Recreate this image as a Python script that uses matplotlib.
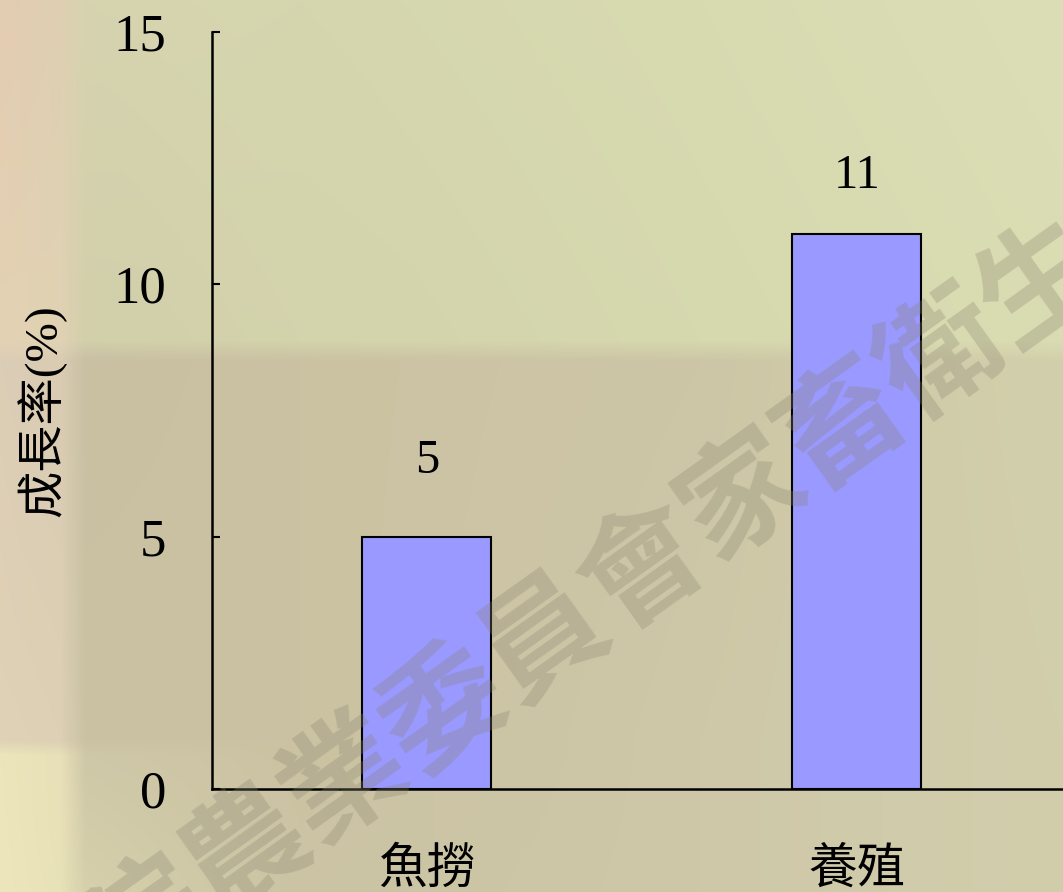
import numpy as np
import matplotlib
matplotlib.use("Agg")
import matplotlib.pyplot as plt
from matplotlib.colors import to_rgb

# ==================== DATA ====================
categories = ["魚撈", "養殖"]
growth_rate = [5, 11]
value_labels = ["5", "11"]
y_ticks = [0, 5, 10, 15]
y_label = "成長率(%)"
watermark = "行政院農業委員會家畜衛生試驗所"

FONT = ["Liberation Serif", "Noto Sans CJK TC", "DejaVu Sans"]
plt.rcParams["font.family"] = FONT

W, H, DPI = 1063, 892, 100
fig = plt.figure(figsize=(W / DPI, H / DPI), dpi=DPI)

# ==================== BACKGROUND (soft textured slide) ====================
bx = [0, 60, 85, 300, 700, 1063]
by = [0, 340, 360, 740, 755, 892]
bg_rows = [
    ["#e3ccb2", "#dfcfb2", "#d6d4b0", "#d5d6ae", "#d8dab0", "#dcdeb6"],
    ["#e4d2b4", "#e0d2b4", "#d2cfab", "#d3d3ac", "#d6d8ae", "#dadcb2"],
    ["#dccdb6", "#d9ccb3", "#c9c0a3", "#cbc2a2", "#cdc6a6", "#d2d0ac"],
    ["#e0d2b6", "#ddd0b4", "#cac2a3", "#cbc2a2", "#cec8a8", "#d2ceac"],
    ["#ece5bc", "#e8e0b8", "#cfc8a8", "#cbc2a2", "#cec8a8", "#d2ceac"],
    ["#ede6bc", "#e8e2b8", "#d6d0ac", "#cbc4a4", "#cec8a8", "#d2ceac"],
]
anchor = np.array([[to_rgb(c) for c in row] for row in bg_rows])
xs = np.arange(W)
ys = np.arange(H)
tmp = np.empty((len(by), W, 3))
for i in range(len(by)):
    for ch in range(3):
        tmp[i, :, ch] = np.interp(xs, bx, anchor[i, :, ch])
img = np.empty((H, W, 3))
for ch in range(3):
    for j in range(W):
        img[:, j, ch] = np.interp(ys, by, tmp[:, j, ch])

ax_bg = fig.add_axes([0, 0, 1, 1], zorder=-2)
ax_bg.imshow(img, aspect="auto", extent=(0, 1, 0, 1), origin="upper")
ax_bg.axis("off")

# ==================== CHART ====================
ax = fig.add_axes([212 / W, 1 - 789 / H, 1 - 212 / W, (789 - 32) / H])
ax.patch.set_alpha(0)

x = np.arange(len(categories))
bars = ax.bar(x, growth_rate, width=0.30, color="#9999ff",
              edgecolor="black", linewidth=1.5, zorder=3)

label_pad = [39, 26]
for xi, v, lab, pad in zip(x, growth_rate, value_labels, label_pad):
    ax.annotate(lab, (xi, v), xytext=(0, pad), textcoords="offset points",
                ha="center", va="bottom", fontsize=35, color="black")

ax.set_xlim(-0.5, 1.48)
ax.set_ylim(0, 15)
ax.set_yticks(y_ticks)
ax.set_yticklabels([str(t) for t in y_ticks])
ax.set_xticks(x)
ax.set_xticklabels(categories)

ax.tick_params(axis="y", direction="in", length=6, width=1.5, pad=33, labelsize=38)
ax.tick_params(axis="x", length=0, pad=42, labelsize=35)

for s in ["top", "right"]:
    ax.spines[s].set_visible(False)
for s in ["left", "bottom"]:
    ax.spines[s].set_linewidth(1.8)
    ax.spines[s].set_color("black")

ax.set_ylabel(y_label, fontsize=34, labelpad=34)

# watermark lies over everything, as on the slide
fig.text(645 / W, 1 - 570 / H, watermark, rotation=35.5, rotation_mode="anchor",
         ha="center", va="center", fontsize=88, fontweight="bold",
         color="#8a8470", alpha=0.30, family=["Noto Sans CJK TC"], zorder=5)

fig.savefig("out.png", dpi=DPI)
